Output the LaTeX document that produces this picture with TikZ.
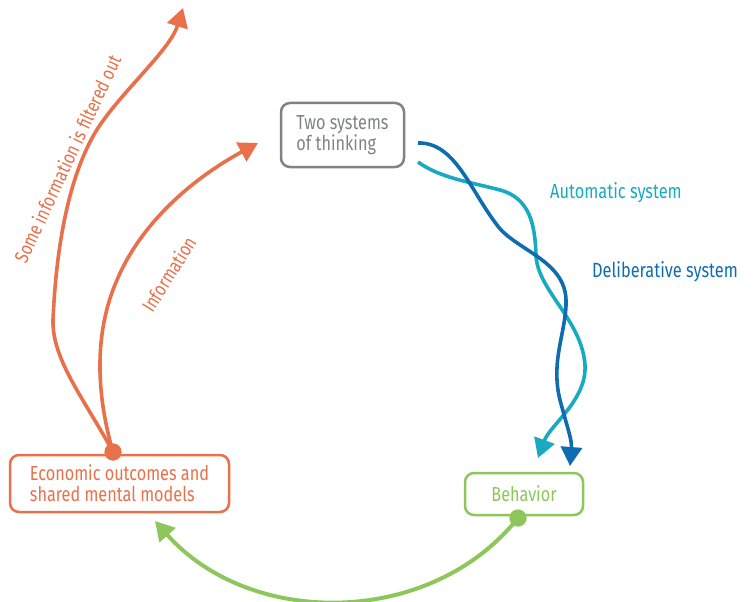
\documentclass[tikz,border=0pt]{standalone}
\usepackage{fontspec}
\setmainfont{Fira Sans}[FakeStretch=0.8]
\usetikzlibrary{arrows.meta}
\definecolor{orng}{HTML}{E8704A}
\definecolor{grn}{HTML}{8DC65B}
\definecolor{gry}{HTML}{808285}
\definecolor{teal}{HTML}{17AAC0}
\definecolor{dblue}{HTML}{0E6DB0}
\tikzset{
  box/.style={draw, line width=2.5pt, rounded corners=9pt, inner sep=0pt, align=left},
  dotnode/.style={circle, fill, inner sep=0pt, minimum size=17pt},
  tipstyle/.style={-{Triangle[length=19pt,width=21pt]}},
  conn/.style={line width=3.6pt, tipstyle},
  lbl/.style={font=\fontsize{20.5}{22}\selectfont, inner sep=0pt},
  olbl/.style={font=\fontsize{19.5}{21}\selectfont, inner sep=0pt, anchor=base, orng},
  boxtext/.style={font=\fontsize{20.3}{21}\selectfont},
}
\begin{document}
\begin{tikzpicture}[x=1pt,y=-1pt]
\useasboundingbox (0,0) rectangle (753,602);
% boxes
\node[box, gry, boxtext, minimum width=123pt, minimum height=64pt] (two) at (342.5,135) {Two systems\\of thinking};
\node[box, orng, boxtext, minimum width=219pt, minimum height=57pt] (econ) at (119.5,483.5) {Economic outcomes and\\shared mental models};
\node[box, grn, boxtext, minimum width=118pt, minimum height=42pt] (beh) at (524,494) {Behavior};
% free ends
\coordinate (tipA) at (183,8);
\coordinate (tipB) at (258,143);
\coordinate (tipC) at (155,521);
\coordinate (sD) at (418,143);
\coordinate (sA) at (418,162);
\coordinate (tipD) at (570,466);
\coordinate (tipAu) at (538,458);
\node[dotnode, orng] (d1) at (113,452) {};
\node[dotnode, grn] (d2) at (518,518) {};
% orange connectors
\draw[conn, orng] (d1.center) .. controls (85,400) and (52,360) .. (53,320)
  .. controls (56,250) and (68,175) .. (98,128)
  .. controls (123,90) and (170,50) .. (tipA);
\draw[conn, orng] (d1.center) .. controls (95,390) and (95,330) .. (117,280)
  .. controls (140,225) and (190,180) .. (tipB);
% blue connectors
\draw[conn, teal] (sA) .. controls (440,178) and (470,182) .. (500,190)
  .. controls (530,198) and (535,225) .. (536,255)
  .. controls (537,290) and (582,320) .. (585,365)
  .. controls (587,400) and (550,425) .. (tipAu);
\draw[conn, dblue] (sD) .. controls (455,142) and (470,190) .. (497,225)
  .. controls (515,250) and (565,260) .. (566,300)
  .. controls (567,330) and (550,360) .. (560,400)
  .. controls (568,430) and (572,440) .. (tipD);
% green connector
\draw[conn, grn, line width=4pt] (d2.center) .. controls (430,628) and (250,628) .. (tipC);
% dots on top
\node[dotnode, orng] at (d1) {};
\node[dotnode, grn] at (d2) {};
% labels
\node[olbl, rotate=65] (lf) at (74,162) {Some information is filtered out};
\node[olbl, rotate=58] (li) at (175,278) {Information};
\node[lbl, teal] (la) at (616,193) {Automatic system};
\node[lbl, dblue] (ld) at (665,272) {Deliberative system};
\end{tikzpicture}
\end{document}
